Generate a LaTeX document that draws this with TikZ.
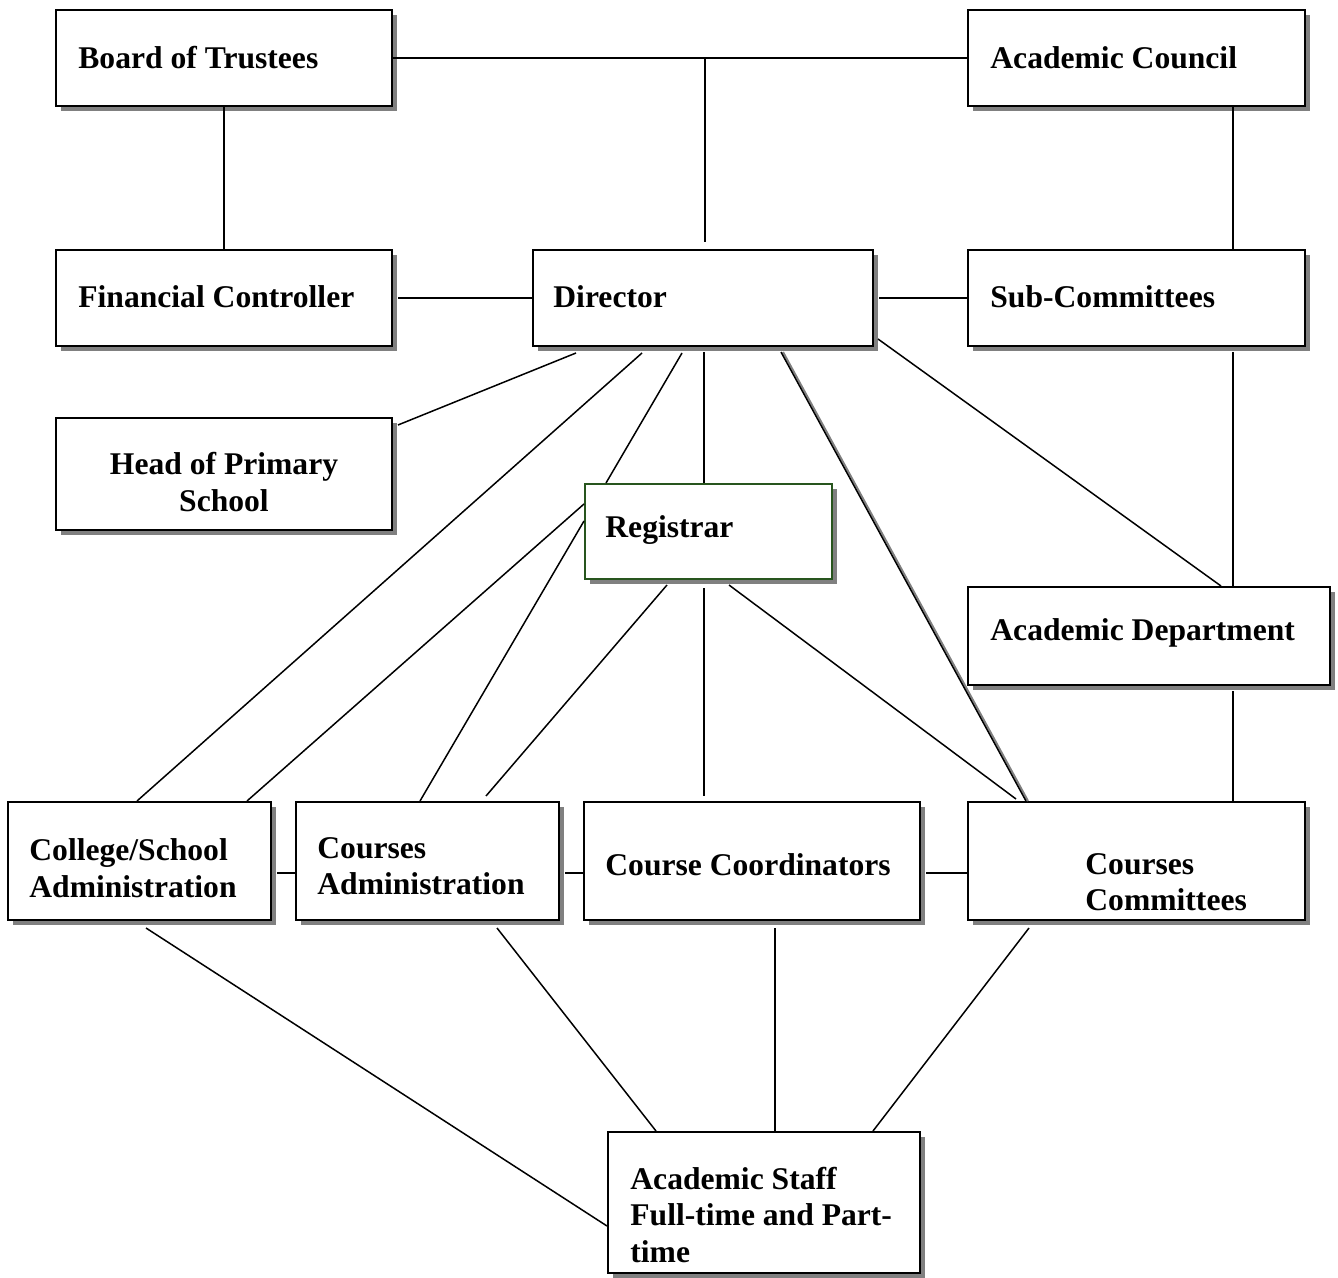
\documentclass[tikz,border=0pt]{standalone}
\usepackage{fontspec}
\setmainfont{Liberation Serif}
\usetikzlibrary{calc,shadows}
\definecolor{shadowgray}{RGB}{128,128,128}
\definecolor{regreen}{RGB}{40,85,30}
\tikzset{
  box/.style={draw=black, line width=1pt, fill=white, rectangle, inner sep=0pt,
    drop shadow={shadow xshift=2.5pt, shadow yshift=-2.5pt, fill=shadowgray, opacity=1}},
  lbl/.style={font=\fontsize{15.8}{18.3}\selectfont\bfseries, inner sep=0pt, align=left, anchor=west},
  conn/.style={draw=black, line width=0.75pt},
}
\begin{document}
\begin{tikzpicture}[x=0.5pt, y=-0.5pt]
\useasboundingbox (0,0) rectangle (1338,1278);
% boxes
\node[box, minimum width=168pt, minimum height=48pt] (bot) at (224,58) {};
\node[box, minimum width=168.5pt, minimum height=48pt] (acc) at (1136.5,58) {};
\node[box, minimum width=168pt, minimum height=48pt] (fin) at (224,298) {};
\node[box, minimum width=170pt, minimum height=48pt] (dir) at (703,298) {};
\node[box, minimum width=168.5pt, minimum height=48pt] (sub) at (1136.5,298) {};
\node[box, minimum width=168pt, minimum height=56pt] (head) at (224,474) {};
\node[box, draw=regreen, minimum width=123.5pt, minimum height=47.5pt] (reg) at (708.5,531.5) {};
\node[box, minimum width=181pt, minimum height=49pt] (acd) at (1149,636) {};
\node[box, minimum width=131.5pt, minimum height=59pt] (col) at (139.5,861) {};
\node[box, minimum width=131.5pt, minimum height=59pt] (cad) at (427.5,861) {};
\node[box, minimum width=168pt, minimum height=59pt] (cco) at (752,861) {};
\node[box, minimum width=168.5pt, minimum height=59pt] (ccm) at (1136.5,861) {};
\node[box, minimum width=156pt, minimum height=70.5pt] (staff) at (764,1202.5) {};
% labels
\node[lbl] (tbot) at (78,58) {Board of Trustees};
\node[lbl] (tacc) at (990,58) {Academic Council};
\node[lbl] (tfin) at (78,297) {Financial Controller};
\node[lbl] (tdir) at (553,297) {Director};
\node[lbl] (tsub) at (990,297) {Sub-Committees};
\node[lbl, align=center, anchor=center] (thead) at (224,482) {Head of Primary\\School};
\node[lbl] (treg) at (605,530) {Registrar};
\node[lbl] (tacd) at (990,633) {Academic Department};
\node[lbl] (tcol) at (29,868) {College/School\\Administration};
\node[lbl] (tcad) at (317,866) {Courses\\Administration};
\node[lbl] (tcco) at (605,865) {Course Coordinators};
\node[lbl] (tccm) at (1085,882) {Courses\\Committees};
\node[lbl] (tstaff) at (630,1215) {Academic Staff\\Full-time and Part-\\time};
% connectors (drawn behind boxes would be nicer, but endpoints are at edges)
\coordinate (j) at ($(dir.north)+(2,-7)$);
\coordinate (k) at ($(acc.south east)+(-73,0)$);
\draw[conn] (bot.east) -- (acc.west);
\draw[conn] (j) -- (j |- bot.east);
\draw[conn] (bot.south) -- (fin.north);
\draw[conn] (k) -- (k |- sub.north);
\draw[conn] ($(fin.east)+(5,0)$) -- (dir.west);
\draw[conn] ($(dir.east)+(5,0)$) -- (sub.west);
\draw[conn] ($(k |- sub.south)+(0,5)$) -- (k |- acd.north);
\draw[conn] ($(k |- acd.south)+(0,5)$) -- (k |- ccm.north);
\draw[conn] ($(dir.south west)+(44,6)$) -- ($(head.north east)+(5,8)$);
\draw[conn] ($(dir.south west)+(110,6)$) -- ($(col.north west)+(130,0)$);
\draw[conn] ($(dir.south west)+(150,6)$) -- ($(reg.north west)+(22,0)$);
\draw[conn] ($(dir.south west)+(172,5)$) -- ($(reg.north west)+(120,0)$);
\draw[conn, draw=shadowgray, line width=1pt] ($(dir.south west)+(251,5)$) -- ($(ccm.north west)+(61,0)$);
\draw[conn] ($(dir.south west)+(249,5)$) -- ($(ccm.north west)+(59,0)$);
\draw[conn] ($(dir.south east)+(4,-8)$) -- ($(acd.north west)+(254,0)$);
\draw[conn] ($(reg.north west)+(0,21)$) -- ($(col.north west)+(240,0)$);
\draw[conn] ($(reg.north west)+(0,38)$) -- ($(cad.north west)+(125,0)$);
\draw[conn] ($(reg.south west)+(83,5)$) -- ($(cad.north west)+(191,-5)$);
\draw[conn] ($(reg.south west)+(120,8)$) -- ($(cco.north west)+(121,-5)$);
\draw[conn] ($(reg.south west)+(145,5)$) -- ($(ccm.north west)+(49,-2)$);
\draw[conn] ($(col.east)+(5,12)$) -- ($(cad.west)+(0,12)$);
\draw[conn] ($(cad.east)+(5,12)$) -- ($(cco.west)+(0,12)$);
\draw[conn] ($(cco.east)+(5,12)$) -- ($(ccm.west)+(0,12)$);
\draw[conn] ($(col.south west)+(139,7)$) -- ($(staff.north west)+(0,95)$);
\draw[conn] ($(cad.south west)+(202,7)$) -- ($(staff.north west)+(49,0)$);
\draw[conn] ($(cco.south west)+(192,7)$) -- ($(staff.north west)+(168,0)$);
\draw[conn] ($(ccm.south west)+(62,7)$) -- ($(staff.north west)+(266,0)$);
\end{tikzpicture}
\end{document}
